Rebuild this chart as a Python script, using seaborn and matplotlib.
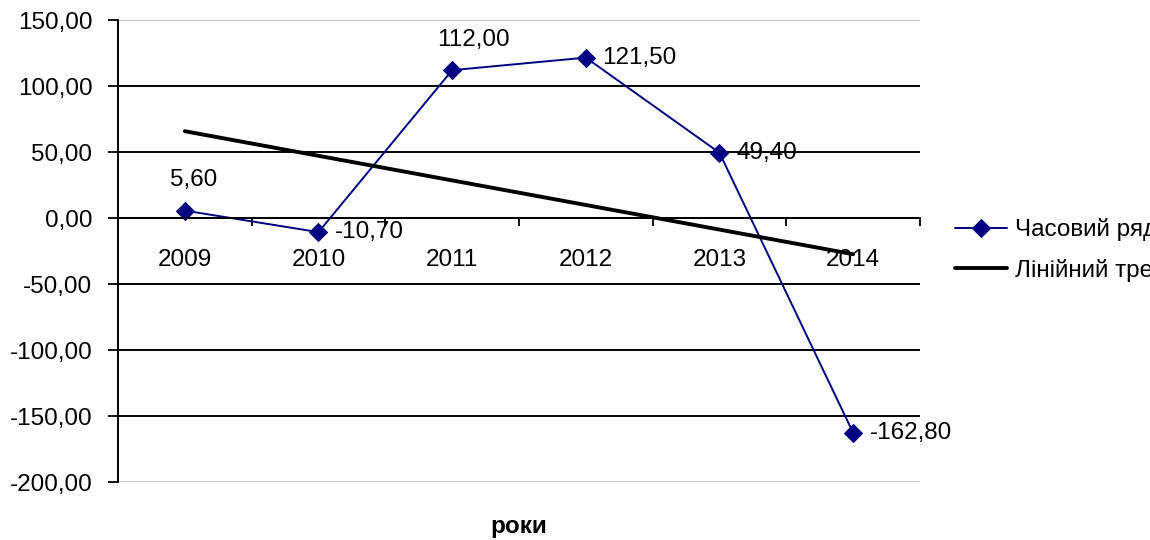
import numpy as np
import pandas as pd
import matplotlib
matplotlib.use('Agg')
import matplotlib.pyplot as plt
import seaborn as sns
from matplotlib.ticker import FuncFormatter, FixedLocator

years = ['2009', '2010', '2011', '2012', '2013', '2014']
values = [5.6, -10.7, 112.0, 121.5, 49.4, -162.8]
label_side = ['above', 'right', 'above', 'right', 'right', 'right']
series_name = 'Часовий ряд'
trend_name = 'Лінійний тренд'
y_ticks = [150, 100, 50, 0, -50, -100, -150, -200]

sns.set_style('white')
plt.rcParams['font.family'] = ['Liberation Sans', 'DejaVu Sans']
plt.rcParams['text.color'] = 'black'
plt.rcParams['xtick.color'] = 'black'
plt.rcParams['ytick.color'] = 'black'
FS = 17.5

def comma(v, pos=None):
    return f'{v:.2f}'.replace('.', ',')

df = pd.DataFrame({'pos': np.arange(len(years)), 'year': years, 'value': values})

fig = plt.figure(figsize=(11.5, 5.4), dpi=100)
ax = fig.add_axes([118 / 1150, 1 - 482 / 540, (920 - 118) / 1150, (482 - 20) / 540])

navy = '#000080'
sns.lineplot(data=df, x='pos', y='value', ax=ax, color=navy, lw=1.4,
             marker='D', markersize=9, markeredgecolor=navy, label=series_name)
sns.regplot(data=df, x='pos', y='value', ax=ax, ci=None, scatter=False,
            label=trend_name, line_kws={'color': 'black', 'lw': 2.8},
            truncate=True)

for x, v, side in zip(df['pos'], values, label_side):
    if side == 'above':
        ax.annotate(comma(v), (x, v), xytext=(-11, 14), textcoords='offset points',
                    ha='left', va='bottom', fontsize=FS)
    else:
        ax.annotate(comma(v), (x, v), xytext=(12, 0), textcoords='offset points',
                    ha='left', va='center', fontsize=FS)

ax.set_xlim(-0.5, len(years) - 0.5)
ax.set_ylim(min(y_ticks), max(y_ticks))
ax.yaxis.set_major_locator(FixedLocator(y_ticks))
ax.yaxis.set_major_formatter(FuncFormatter(comma))
ax.tick_params(axis='y', labelsize=FS, length=7, width=1.3, color='black',
               labelcolor='black', pad=11.5, left=True, direction='out')

ax.set_xticks(df['pos'])
ax.set_xticklabels(years)
ax.set_xticks(np.arange(-0.5, len(years)), minor=True)
ax.tick_params(axis='x', which='major', labelsize=FS, length=0, pad=22,
               labelcolor='black')
ax.tick_params(axis='x', which='minor', length=6, width=1.3, color='black',
               bottom=True, direction='out')

ax.grid(axis='y', color='black', lw=1.4)
glines = ax.get_ygridlines()
glines[0].set_color('#c8c8c8')
glines[-1].set_color('#c8c8c8')

for s in ['top', 'right']:
    ax.spines[s].set_visible(False)
ax.spines['bottom'].set_position(('data', 0))
ax.spines['bottom'].set_linewidth(1.4)
ax.spines['bottom'].set_color('black')
ax.spines['left'].set_linewidth(1.4)
ax.spines['left'].set_color('black')

ax.set_xlabel('')
ax.set_ylabel('')
ax.text(0.5, -0.097, 'роки', transform=ax.transAxes, ha='center', va='center',
        fontsize=FS, fontweight='bold')

ax.legend(loc='center left', bbox_to_anchor=(955 / 1150, 1 - 250 / 540),
          bbox_transform=fig.transFigure, frameon=False, fontsize=FS,
          handlelength=2.15, handletextpad=0.3, labelspacing=0.72, borderpad=0,
          borderaxespad=0)

fig.savefig('out.png', dpi=100)
